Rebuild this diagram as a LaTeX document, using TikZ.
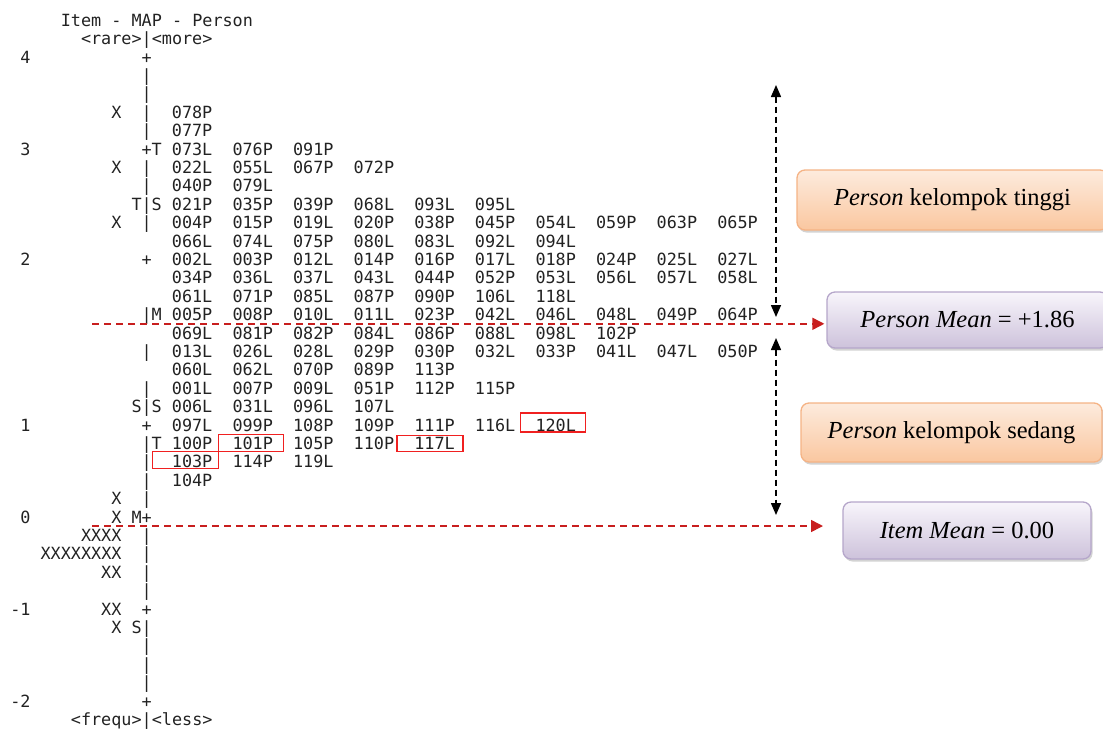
\documentclass[tikz,border=0pt]{standalone}
\usepackage{fontspec}
\setmainfont{Liberation Serif}
\setmonofont{DejaVu Sans Mono}
\usepackage{tikz}
\usetikzlibrary{arrows.meta, positioning, calc, shadows}
\definecolor{meanred}{HTML}{C81E1E}
\definecolor{markred}{HTML}{F02020}
\definecolor{mapgray}{HTML}{222222}
\definecolor{peachtop}{HTML}{FDEBDD}
\definecolor{peachfill}{HTML}{FAC7A0}
\definecolor{peachdraw}{HTML}{F5B385}
\definecolor{lilactop}{HTML}{F8F5FB}
\definecolor{lilacfill}{HTML}{CDC2DB}
\definecolor{lilacdraw}{HTML}{B5A6CA}
\tikzset{
    maptext/.style={inner sep=0pt, anchor=west, text height=12.2pt, text depth=0pt, text=mapgray, font=\fontsize{16.8}{18}\selectfont\ttfamily},
    markbox/.style={draw=markred, line width=1.3pt},
    labelbox/.style={rectangle, rounded corners=8pt, line width=1.3pt, align=center, font=\fontsize{24.5}{28}\selectfont, drop shadow={shadow xshift=1.5pt, shadow yshift=-2.5pt, opacity=0.35}},
    peachbox/.style={labelbox, draw=peachdraw, top color=peachtop, bottom color=peachfill},
    lilacbox/.style={labelbox, draw=lilacdraw, top color=lilactop, bottom color=lilacfill},
    meanarrow/.style={-{Triangle[length=12pt, width=12pt]}, line width=1.5pt, dash pattern=on 7pt off 5pt, draw=meanred},
    spanarrow/.style={{Triangle[length=12pt, width=10pt]}-{Triangle[length=12pt, width=10pt]}, line width=1.5pt, dash pattern=on 6pt off 4pt, draw=black}
}

\begin{document}
\begin{tikzpicture}[x=1pt, y=-1pt]
    \useasboundingbox (0,0) rectangle (1103,729);
    \foreach \r/\c/\t [count=\i] in {0/6/{Item - MAP - Person}, 1/8/{<rare>|<more>}, 2/2/4, 2/14/+, 3/14/|, 4/14/|,
        5/11/X, 5/14/|, 6/14/|, 7/2/3, 7/14/+T, 8/11/X, 8/14/|, 9/14/|, 10/13/T|S, 11/11/X, 11/14/|,
        13/2/2, 13/14/+, 16/14/|M, 18/14/|, 20/14/|, 21/13/S|S, 22/2/1, 22/14/+, 23/14/|T, 24/14/|, 25/14/|,
        26/11/X, 26/14/|, 27/2/0, 27/11/{X M+}, 28/8/XXXX, 28/14/|, 29/4/XXXXXXXX, 29/14/|, 30/10/XX, 30/14/|,
        31/14/|, 32/1/-1, 32/10/XX, 32/14/+, 33/11/{X S|}, 34/14/|, 35/14/|, 36/14/|, 37/1/-2, 37/14/+,
        38/7/{<frequ>|<less>}}
        \node[maptext] (ax\i) at ({10.1*\c}, {20.2+18.4*\r}) {\t};
    \foreach \r/\ids in {5/{078P}, 6/{077P}, 7/{073L,076P,091P}, 8/{022L,055L,067P,072P}, 9/{040P,079L},
        10/{021P,035P,039P,068L,093L,095L},
        11/{004P,015P,019L,020P,038P,045P,054L,059P,063P,065P},
        12/{066L,074L,075P,080L,083L,092L,094L},
        13/{002L,003P,012L,014P,016P,017L,018P,024P,025L,027L},
        14/{034P,036L,037L,043L,044P,052P,053L,056L,057L,058L},
        15/{061L,071P,085L,087P,090P,106L,118L},
        16/{005P,008P,010L,011L,023P,042L,046L,048L,049P,064P},
        17/{069L,081P,082P,084L,086P,088L,098L,102P},
        18/{013L,026L,028L,029P,030P,032L,033P,041L,047L,050P},
        19/{060L,062L,070P,089P,113P},
        20/{001L,007P,009L,051P,112P,115P},
        21/{006L,031L,096L,107L},
        22/{097L,099P,108P,109P,111P,116L,120L},
        23/{100P,101P,105P,110P,117L},
        24/{103P,114P,119L},
        25/{104P}}
        \foreach \id [count=\k from 0] in \ids
            \node[maptext] (n\id) at ({10.1*(17+6*\k)}, {20.2+18.4*\r}) {\id};
    \foreach \b/\l/\rr/\u/\d in {120L/-15/9/-12/7, 117L/-17/8/-8/8, 101P/-14/10/-9/8, 103P/-19/6/-10/7}
        \draw[markbox] ([shift={(\l,\u)}]n\b.west) rectangle ([shift={(\rr,\d)}]n\b.east);

    \node[peachbox, minimum width=311pt, minimum height=60pt] (tinggi) at (952.5,200) {\textit{Person} kelompok tinggi};
    \node[lilacbox, minimum width=281pt, minimum height=56pt] (pmean) at (967.5,320) {\textit{Person Mean} = +1.86};
    \node[peachbox, minimum width=301pt, minimum height=59pt] (sedang) at (951.5,432.5) {\textit{Person} kelompok sedang};
    \node[lilacbox, minimum width=248pt, minimum height=57pt] (imean) at (967,530.5) {\textit{Item Mean} = 0.00};

    \coordinate (pmA) at (92,323.8);
    \coordinate (imA) at (92,526);
    \coordinate (imB) at (823,526);
    \draw[meanarrow, shorten >=2pt] (pmA) -- (pmA -| pmean.west);
    \draw[meanarrow] (imA) -- (imB);

    \coordinate (tA) at (776,85);
    \coordinate (tB) at (776,317);
    \coordinate (sA) at (776,338);
    \coordinate (sB) at (776,515);
    \draw[spanarrow] (tA) -- (tB);
    \draw[spanarrow] (sA) -- (sB);
\end{tikzpicture}
\end{document}
